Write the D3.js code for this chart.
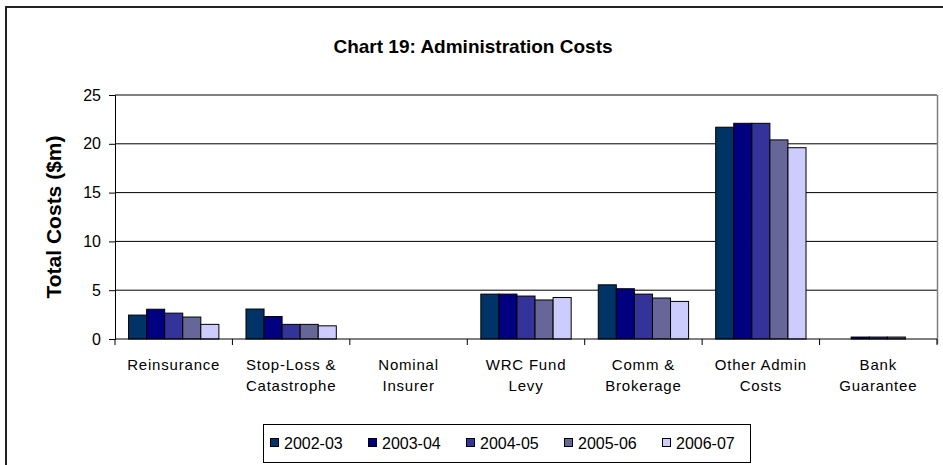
<!DOCTYPE html>
<html>
<head>
<meta charset="utf-8">
<script src="https://cdn.jsdelivr.net/npm/d3@7"></script>
<style>
  body { margin: 0; background: #fff; }
  text { font-family: Arial, "Liberation Sans", sans-serif; fill: #000; }
</style>
</head>
<body>
<div id="chart"></div>
<script>
// data
const categories = [
  ['Reinsurance'],
  ['Stop-Loss &', 'Catastrophe'],
  ['Nominal', 'Insurer'],
  ['WRC Fund', 'Levy'],
  ['Comm &', 'Brokerage'],
  ['Other Admin', 'Costs'],
  ['Bank', 'Guarantee']
];
const years = ['2002-03', '2003-04', '2004-05', '2005-06', '2006-07'];
const v2002 = [2.45, 3.07, 0, 4.6, 5.55, 21.7, 0];
const v2003 = [3.05, 2.3, 0, 4.6, 5.15, 22.1, 0.2];
const v2004 = [2.65, 1.5, 0, 4.4, 4.6, 22.1, 0.2];
const v2005 = [2.25, 1.5, 0, 4.0, 4.2, 20.4, 0.2];
const v2006 = [1.5, 1.35, 0, 4.25, 3.85, 19.6, 0];
const yTicks = [0, 5, 10, 15, 20, 25];
const colors = ['#003366', '#000080', '#333399', '#666699', '#ccccff'];

const W = 943, H = 465;
const margin = {left: 115, top: 95, right: 6, bottom: 126};
const series = [v2002, v2003, v2004, v2005, v2006];

let svg = d3.select('#chart').append('svg')
  .attr('width', W).attr('height', H);

// outer chart border (runs off the right and bottom edges)
svg.append('path')
  .attr('d', 'M6,' + H + ' L6,7 L' + W + ',7')
  .attr('fill', 'none').attr('stroke', '#222').attr('stroke-width', 2);

// title
svg.append('text')
  .attr('x', 473).attr('y', 53)
  .attr('text-anchor', 'middle')
  .style('font-weight', 'bold').style('font-size', '19px')
  .text('Chart 19: Administration Costs');

let x0 = d3.scaleBand().domain(d3.range(categories.length))
  .range([margin.left, W - margin.right]);
let x1 = d3.scaleBand().domain(d3.range(years.length))
  .range([0, x0.bandwidth()]).paddingInner(0).paddingOuter(0.75);
let y = d3.scaleLinear().domain([0, 25]).range([H - margin.bottom, margin.top]);

// gridlines
let grid = svg.append('g').classed('grid', true);
grid.selectAll('line').data(yTicks.filter(d => d > 0)).enter().append('line')
  .attr('x1', margin.left).attr('x2', W - margin.right)
  .attr('y1', d => y(d)).attr('y2', d => y(d))
  .attr('stroke', '#000').attr('stroke-width', 1);
// plot right border
svg.append('line')
  .attr('x1', W - margin.right + 0.5).attr('x2', W - margin.right + 0.5)
  .attr('y1', y(25)).attr('y2', y(0) + 5)
  .attr('stroke', '#808080').attr('stroke-width', 1.5);

// bars
let groups = svg.append('g').classed('bars', true)
  .selectAll('g').data(categories).enter().append('g')
  .attr('transform', (d, i) => 'translate(' + x0(i) + ',0)');
groups.selectAll('rect')
  .data((d, i) => series.map((s, k) => ({k: k, v: s[i]})))
  .enter().append('rect')
  .filter(d => d.v > 0)
  .attr('x', d => x1(d.k))
  .attr('width', x1.bandwidth())
  .attr('y', d => y(d.v))
  .attr('height', d => y(0) - y(d.v))
  .attr('fill', d => colors[d.k])
  .attr('stroke', '#000').attr('stroke-width', 1);

// y axis
let yAx = d3.axisLeft(y).tickValues(yTicks).tickSize(6).tickPadding(8);
svg.append('g').classed('y-axis', true)
  .attr('transform', 'translate(' + margin.left + ',0)')
  .call(yAx)
  .call(g => g.select('.domain').attr('stroke', '#000'))
  .call(g => g.selectAll('text').style('font-size', '16px').attr('font-family', null));

// x axis (ticks at category boundaries)
let xAxG = svg.append('g').classed('x-axis', true);
xAxG.append('line')
  .attr('x1', margin.left).attr('x2', W - margin.right)
  .attr('y1', y(0)).attr('y2', y(0)).attr('stroke', '#000');
xAxG.selectAll('line.tk').data(d3.range(categories.length + 1)).enter().append('line')
  .attr('class', 'tk')
  .attr('x1', d => margin.left + d * x0.step()).attr('x2', d => margin.left + d * x0.step())
  .attr('y1', y(0)).attr('y2', y(0) + 6).attr('stroke', '#000');
let lbl = xAxG.selectAll('text').data(categories).enter().append('text')
  .attr('text-anchor', 'middle')
  .attr('x', (d, i) => x0(i) + x0.bandwidth() / 2)
  .attr('y', 370)
  .style('font-size', '15px').style('letter-spacing', '0.8px');
lbl.selectAll('tspan').data(d => d).enter().append('tspan')
  .attr('x', function() { return d3.select(this.parentNode).attr('x'); })
  .attr('dy', (d, i) => i === 0 ? 0 : 21)
  .text(d => d);

// y title
svg.append('text')
  .attr('transform', 'translate(61,' + ((y(0) + y(25)) / 2) + ') rotate(-90)')
  .attr('text-anchor', 'middle')
  .style('font-weight', 'bold').style('font-size', '21px')
  .text('Total Costs ($m)');

// legend
let leg = svg.append('g').classed('legend', true);
leg.append('rect')
  .attr('x', 263.5).attr('y', 424.5).attr('width', 487).attr('height', 38)
  .attr('fill', '#fff').attr('stroke', '#000');
let item = leg.selectAll('g.item').data(years).enter().append('g')
  .attr('class', 'item')
  .attr('transform', (d, i) => 'translate(' + (270 + i * 98) + ',0)');
item.append('rect')
  .attr('x', 0.5).attr('y', 438.5).attr('width', 8).attr('height', 8)
  .attr('fill', (d, i) => colors[i]).attr('stroke', '#000');
item.append('text')
  .attr('x', 14).attr('y', 449)
  .style('font-size', '16px')
  .text(d => d);
</script>
</body>
</html>
